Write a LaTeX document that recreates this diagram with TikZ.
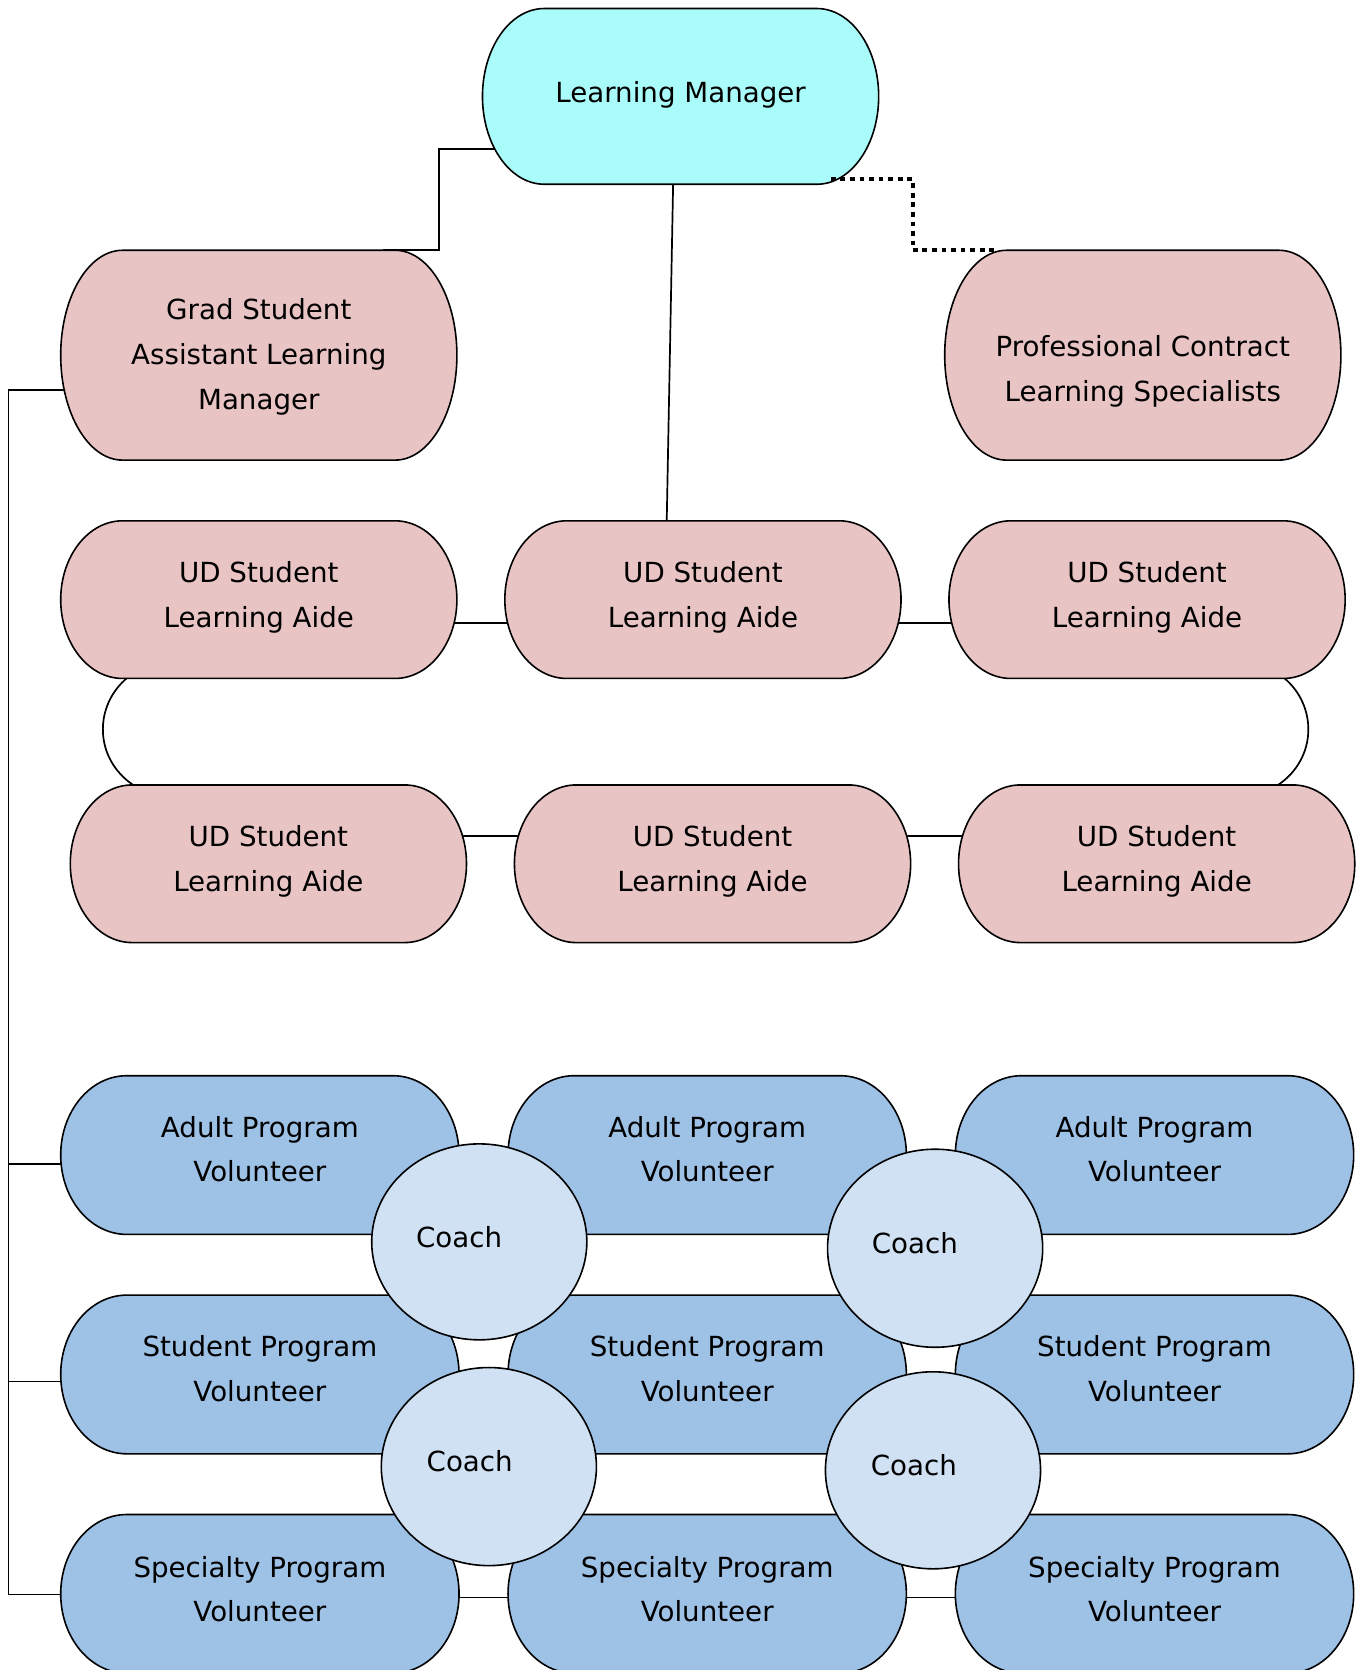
\documentclass[tikz,border=0pt]{standalone}
\usepackage{fontspec}
\setmainfont{DejaVu Sans}
\usetikzlibrary{calc}
\pgfdeclarelayer{background}
\pgfsetlayers{background,main}
\definecolor{lmcyan}{RGB}{170,252,250}
\definecolor{pinkf}{RGB}{233,196,196}
\definecolor{volblue}{RGB}{158,193,230}
\definecolor{coachblue}{RGB}{207,225,243}
\newcommand\pillr{58}
% #1 style, #2 cx, #3 cy (downward), #4 width, #5 height
\newcommand\pillshape[5]{%
  \filldraw[#1] ({#2-#4/2+\pillr},{-#3+#5/2}) -- ({#2+#4/2-\pillr},{-#3+#5/2})
    arc[start angle=90,end angle=-90,x radius=\pillr,y radius={#5/2}]
    -- ({#2-#4/2+\pillr},{-#3-#5/2})
    arc[start angle=270,end angle=90,x radius=\pillr,y radius={#5/2}] -- cycle;}
\begin{document}
\begin{tikzpicture}[x=1pt,y=1pt,
  txt/.style={align=center, font=\fontsize{26}{42}\selectfont, inner sep=0pt},
  box/.style={draw=black, line width=1.5pt},
  conn/.style={draw=black, line width=1.6pt},
  dotconn/.style={draw=black, line width=4pt, dash pattern=on 4.5pt off 4.5pt},
  coachst/.style={draw=black, line width=1.5pt, fill=coachblue}]
\useasboundingbox (0,0) rectangle (1276,-1568);

% top level
\pillshape{box,fill=lmcyan}{639}{90.5}{372}{165}
\node[txt] (lm) at (639,-89) {Learning Manager};
\pillshape{box,fill=pinkf}{243}{333.5}{372}{197}
\node[txt] (gs) at (243,-335) {Grad Student\\Assistant Learning\\Manager};
\pillshape{box,fill=pinkf}{1073}{333.5}{372}{197}
\node[txt] (pc) at (1073,-349) {Professional Contract\\Learning Specialists};

% UD aides
\pillshape{box,fill=pinkf}{243}{563}{372}{148}
\node[txt] (u11) at (243,-561) {UD Student\\Learning Aide};
\pillshape{box,fill=pinkf}{660}{563}{372}{148}
\node[txt] (u12) at (660,-561) {UD Student\\Learning Aide};
\pillshape{box,fill=pinkf}{1077}{563}{372}{148}
\node[txt] (u13) at (1077,-561) {UD Student\\Learning Aide};
\pillshape{box,fill=pinkf}{252}{811}{372}{148}
\node[txt] (u21) at (252,-809) {UD Student\\Learning Aide};
\pillshape{box,fill=pinkf}{669}{811}{372}{148}
\node[txt] (u22) at (669,-809) {UD Student\\Learning Aide};
\pillshape{box,fill=pinkf}{1086}{811}{372}{148}
\node[txt] (u23) at (1086,-809) {UD Student\\Learning Aide};

% volunteers
\renewcommand\pillr{62}
\pillshape{box,fill=volblue}{244}{1084.5}{374}{149}
\node[txt] (ad1) at (244,-1079) {Adult Program\\Volunteer};
\pillshape{box,fill=volblue}{664}{1084.5}{374}{149}
\node[txt] (ad2) at (664,-1079) {Adult Program\\Volunteer};
\pillshape{box,fill=volblue}{1084}{1084.5}{374}{149}
\node[txt] (ad3) at (1084,-1079) {Adult Program\\Volunteer};
\pillshape{box,fill=volblue}{244}{1290.5}{374}{149}
\node[txt] (st1) at (244,-1285) {Student Program\\Volunteer};
\pillshape{box,fill=volblue}{664}{1290.5}{374}{149}
\node[txt] (st2) at (664,-1285) {Student Program\\Volunteer};
\pillshape{box,fill=volblue}{1084}{1290.5}{374}{149}
\node[txt] (st3) at (1084,-1285) {Student Program\\Volunteer};
\pillshape{box,fill=volblue}{244}{1496.5}{374}{149}
\node[txt] (sp1) at (244,-1492) {Specialty Program\\Volunteer};
\pillshape{box,fill=volblue}{664}{1496.5}{374}{149}
\node[txt] (sp2) at (664,-1492) {Specialty Program\\Volunteer};
\pillshape{box,fill=volblue}{1084}{1496.5}{374}{149}
\node[txt] (sp3) at (1084,-1492) {Specialty Program\\Volunteer};

% coaches
\filldraw[coachst] (450,-1166) ellipse[x radius=101, y radius=92];
\node[txt] (c1) at (431,-1162) {Coach};
\filldraw[coachst] (878,-1172) ellipse[x radius=101, y radius=93];
\node[txt] (c2) at (859,-1167) {Coach};
\filldraw[coachst] (459,-1377) ellipse[x radius=101, y radius=93];
\node[txt] (c3) at (441,-1372) {Coach};
\filldraw[coachst] (876,-1380.5) ellipse[x radius=101, y radius=92.5];
\node[txt] (c4) at (858,-1376) {Coach};

% dotted to Professional Contract (drawn over the shapes)
\draw[dotconn] ($(lm)+(141,-79)$) -- ++(77,0) |- ($(pc)+(-136,114)$);

\begin{pgfonlayer}{background}
% Learning Manager to Grad Student
\draw[conn] ($(lm)+(-159,-51)$) -- ++(-68,0) |- ($(gs)+(117,100)$);
% Learning Manager to middle UD aide
\draw[conn] ($(lm)+(-7,-84)$) -- ($(u12)+(-34,72)$);
% Grad Student trunk to volunteers
\draw[conn] ($(gs)+(-174,-31)$) -- ++(-61,0) |- ($(sp1)+(-187,-5)$);
\draw[conn] ($(ad1)+(-187,-14)$) -- ++(-49,0);
\draw[conn] ($(st1)+(-187,-12)$) -- ++(-49,0);
% UD aides, first row
\draw[conn] ($(u11)+(177,-24)$) -- ($(u12)+(-180,-24)$);
\draw[conn] ($(u12)+(180,-24)$) -- ($(u13)+(-177,-24)$);
% UD aides, second row
\draw[conn] ($(u21)+(178,24)$) -- ($(u22)+(-179,24)$);
\draw[conn] ($(u22)+(180,24)$) -- ($(u23)+(-178,24)$);
% curves between rows
\draw[conn] ($(u11)+(-123,-75)$) .. controls +(-32,-26) and +(-37,25) .. ($(u21)+(-127,72)$);
\draw[conn] ($(u13)+(128,-75)$) .. controls +(32,-26) and +(37,25) .. ($(u23)+(114,72)$);
% specialty row
\draw[conn] ($(sp1)+(176,-8)$) -- ($(sp2)+(-174,-8)$);
\draw[conn] ($(sp2)+(176,-8)$) -- ($(sp3)+(-174,-8)$);
\end{pgfonlayer}
\end{tikzpicture}
\end{document}
